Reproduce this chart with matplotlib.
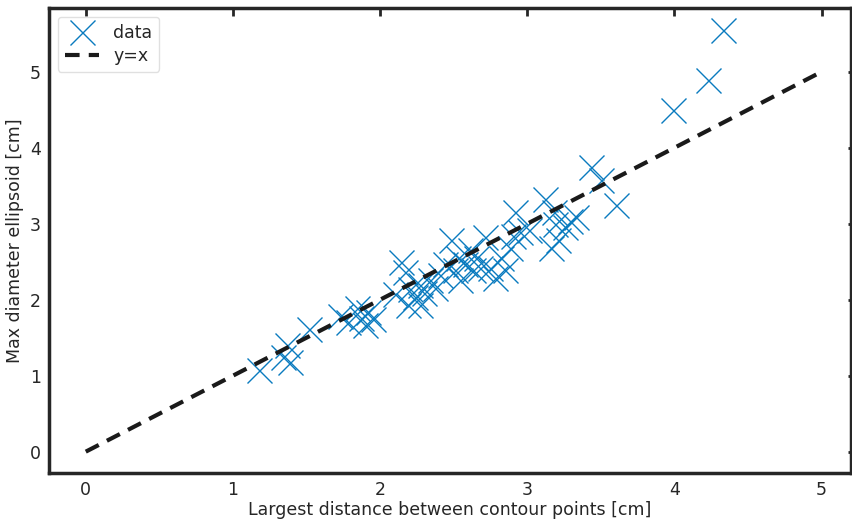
import matplotlib
matplotlib.use("Agg")
import matplotlib.pyplot as plt

# Largest distance between contour points vs. max ellipsoid diameter (cm)
contour_dist = [
    1.18, 1.34, 1.37, 1.39, 1.52, 1.73, 1.78, 1.84, 1.87, 1.90,
    1.92, 1.95, 2.14, 2.17, 2.20, 2.19, 2.24, 2.27, 2.30, 2.34,
    2.37, 2.41, 2.44, 2.48, 2.51, 2.53, 2.54, 2.58, 2.61, 2.63,
    2.65, 2.68, 2.71, 2.75, 2.78, 2.82, 2.85, 2.88, 2.90, 2.92,
    2.95, 3.01, 3.12, 3.16, 3.18, 3.19, 3.21, 3.26, 3.29, 3.33,
    3.43, 3.50, 3.60, 3.99, 4.23, 4.33, 2.27, 2.10,
]
ellipsoid_diam = [
    1.08, 1.24, 1.41, 1.18, 1.61, 1.78, 1.71, 1.89, 1.76, 1.67,
    1.84, 1.74, 2.50, 2.37, 2.14, 1.93, 2.03, 2.20, 2.09, 2.26,
    2.16, 2.33, 2.47, 2.79, 2.39, 2.55, 2.26, 2.47, 2.66, 2.39,
    2.55, 2.42, 2.82, 2.42, 2.29, 2.55, 2.39, 2.68, 2.84, 3.16,
    2.89, 2.92, 3.32, 2.68, 3.16, 3.00, 2.79, 2.96, 3.03, 3.09,
    3.75, 3.58, 3.25, 4.50, 4.89, 5.55, 1.93, 2.08,
]
identity = [0, 5]

plt.rcParams['font.family'] = ['DejaVu Sans']
text_color = '#262626'

fig = plt.figure(figsize=(8.52, 5.22), dpi=100)
ax = fig.add_axes([0.0575, 0.094, 0.9413, 0.8907])

ax.plot(contour_dist, ellipsoid_diam, linestyle='none', marker='x',
        markersize=18, markeredgewidth=1.0, color='#0a7bbf', label='data')
ax.plot(identity, identity, linestyle='--', color='#1a1a1a',
        linewidth=3, dashes=(3.5, 2.2), label='y=x')

ax.set_xlim(-0.25, 5.2)
ax.set_ylim(-0.28, 5.84)
ax.set_xticks([0, 1, 2, 3, 4, 5])
ax.set_yticks([0, 1, 2, 3, 4, 5])

ax.set_xlabel('Largest distance between contour points [cm]',
              fontsize=12.5, color=text_color, labelpad=1)
ax.set_ylabel('Max diameter ellipsoid [cm]', fontsize=12.5,
              color=text_color, labelpad=4)

for spine in ax.spines.values():
    spine.set_linewidth(2.5)
    spine.set_color(text_color)

ax.tick_params(axis='both', which='both', labelsize=12.5, labelcolor=text_color,
               color=text_color, direction='in')
ax.tick_params(axis='x', bottom=False, top=True, length=6, width=2, pad=6)
ax.tick_params(axis='y', left=False, right=True, length=2, width=2, pad=6)

leg = ax.legend(loc='upper left', fontsize=12.5, frameon=True, fancybox=True,
                borderpad=0.4, handlelength=2.0, labelspacing=0.3)
leg.get_frame().set_edgecolor('#d9d9d9')
leg.get_frame().set_linewidth(1.0)
for t in leg.get_texts():
    t.set_color(text_color)

fig.savefig('out.png', dpi=100)
